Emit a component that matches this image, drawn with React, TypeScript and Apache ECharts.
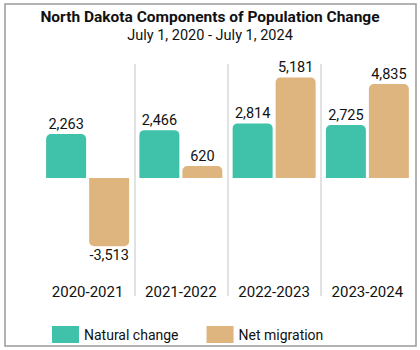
import React, { useEffect, useRef } from "react";
import * as echarts from "echarts";

const categories = ["2020-2021", "2021-2022", "2022-2023", "2023-2024"];
const naturalChange = [2263, 2466, 2814, 2725];
const netMigration = [-3513, 620, 5181, 4835];
const seriesNames = ["Natural change", "Net migration"];
const titleText = "North Dakota Components of Population Change";
const subtitleText = "July 1, 2020 - July 1, 2024";

const TEAL = "#40C1A9";
const TAN = "#DEB47F";
const FONT = "Roboto, 'Open Sans', sans-serif";

function toData(values: number[]) {
  return values.map((v) => ({
    value: v,
    label: { position: v < 0 ? "bottom" : "top" },
    itemStyle: { borderRadius: v < 0 ? [0, 0, 5, 5] : [5, 5, 0, 0] },
  }));
}

export default function App() {
  const ref = useRef<HTMLDivElement>(null);
  useEffect(() => {
    document.body.style.margin = "0";
    if (!ref.current) return;
    const chart = echarts.init(ref.current, undefined, { renderer: "svg" });
    const labelCommon = {
      show: true,
      distance: 2,
      fontFamily: FONT,
      fontSize: 14.5,
      color: "#111",
      formatter: (p: any) => Number(p.value).toLocaleString("en-US"),
    };
    chart.setOption({
      animation: false,
      backgroundColor: "#fff",
      title: [
        {
          text: titleText,
          left: "center",
          top: 4,
          textStyle: { fontFamily: FONT, fontSize: 15.5, fontWeight: "bold", color: "#111" },
        },
        {
          text: subtitleText,
          left: "center",
          top: 23,
          textStyle: { fontFamily: FONT, fontSize: 14.5, fontWeight: "normal", color: "#111" },
        },
      ],
      graphic: [
        {
          type: "rect",
          shape: { x: 5, y: 4, width: 411, height: 342 },
          style: { fill: "none", stroke: "#9a9a9a", lineWidth: 1.5 },
          silent: true,
        },
      ],
      legend: {
        left: 47,
        top: 321,
        itemWidth: 27,
        itemHeight: 17,
        itemGap: 28,
        icon: "rect",
        textStyle: { fontFamily: FONT, fontSize: 14, color: "#111" },
        data: seriesNames,
      },
      grid: { left: 41, right: 6, top: 64, bottom: 54, containLabel: false },
      xAxis: {
        type: "category",
        data: categories,
        position: "bottom",
        axisLine: { show: false },
        axisTick: { show: false },
        axisLabel: {
          inside: true,
          margin: -3,
          fontFamily: FONT,
          fontSize: 15,
          color: "#111",
        },
        splitLine: {
          show: true,
          showMinLine: false,
          showMaxLine: false,
          lineStyle: { color: "#d9d9d9", width: 1.5 },
        },
      },
      yAxis: {
        type: "value",
        min: -6070,
        max: 5870,
        show: false,
        splitLine: { show: false },
      },
      series: [
        {
          name: seriesNames[0],
          type: "bar",
          data: toData(naturalChange),
          barWidth: 40,
          barGap: "7.5%",
          itemStyle: { color: TEAL },
          label: labelCommon,
        },
        {
          name: seriesNames[1],
          type: "bar",
          data: toData(netMigration),
          barWidth: 40,
          barGap: "7.5%",
          itemStyle: { color: TAN },
          label: labelCommon,
        },
      ],
    });
    return () => chart.dispose();
  }, []);
  return <div ref={ref} style={{ width: 420, height: 350 }} />;
}
